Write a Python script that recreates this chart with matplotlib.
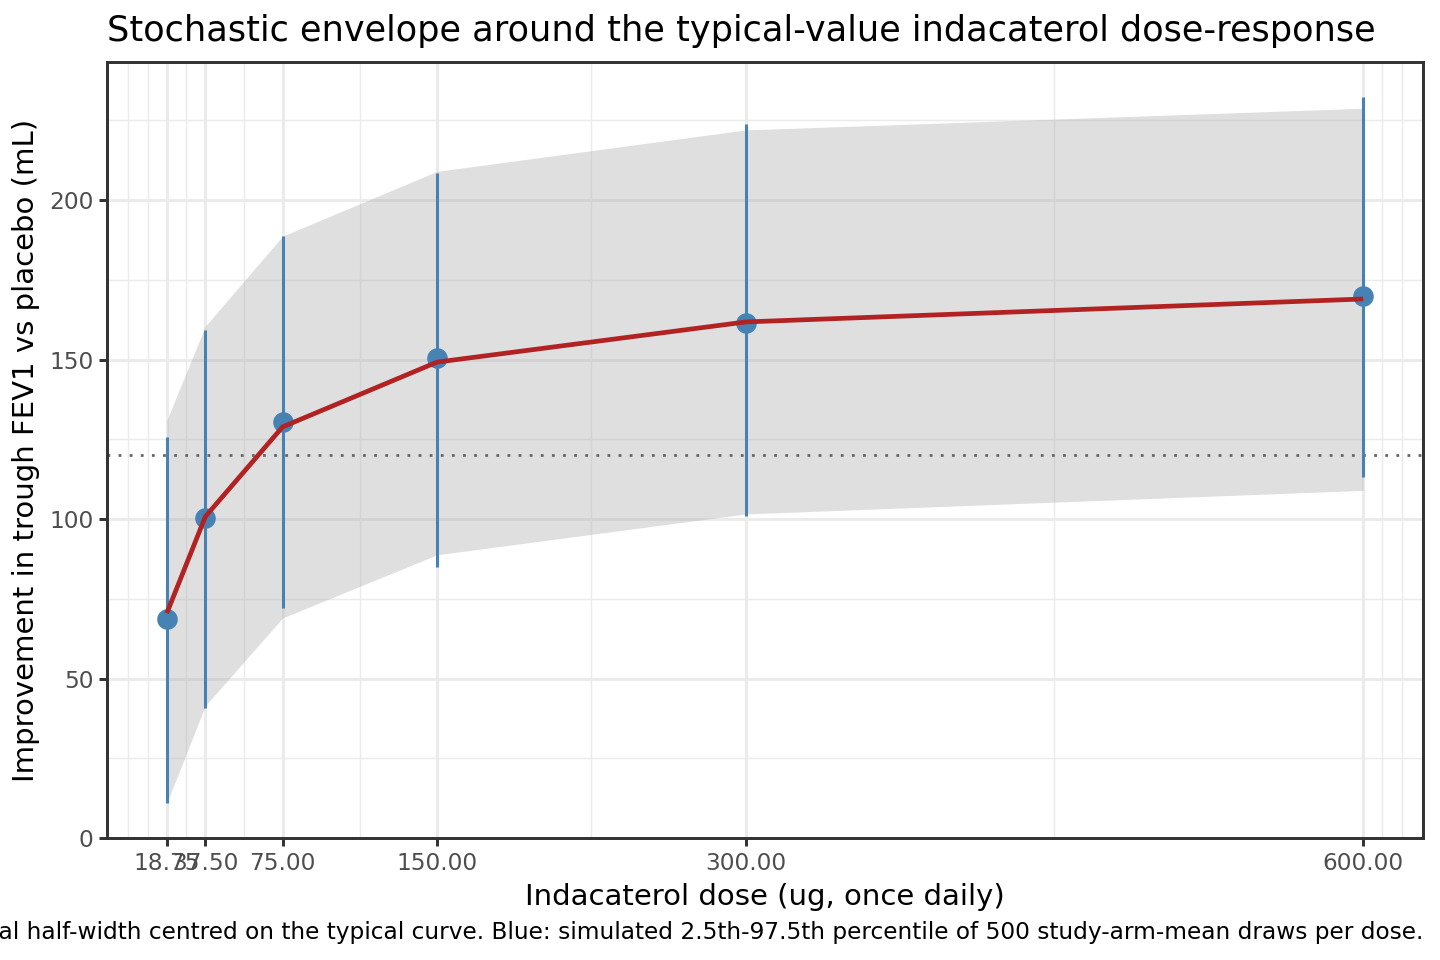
import matplotlib
matplotlib.use("Agg")
import matplotlib.pyplot as plt
import numpy as np

# ---- data ----
doses = [18.75, 37.5, 75, 150, 300, 600]
typical = [70.5, 100.8, 128.9, 149.2, 161.8, 169.0]
ribbon_lo = [11.0, 41.5, 69.0, 88.8, 101.6, 109.0]
ribbon_hi = [131.0, 160.5, 188.7, 209.0, 222.0, 228.8]
sim_median = [68.8, 100.2, 130.4, 150.5, 161.4, 170.0]
sim_lo = [11.0, 40.8, 72.1, 85.0, 101.0, 113.2]
sim_hi = [125.7, 159.2, 188.7, 208.5, 224.0, 232.3]
target = 120
x_ticks = [18.75, 37.5, 75, 150, 300, 600]
x_minor = [0, 9.375, 28.125, 56.25, 112.5, 225, 450, 609.375, 618.75]
y_ticks = [0, 50, 100, 150, 200]
y_minor = [25, 75, 125, 175, 225]

title = "Stochastic envelope around the typical-value indacaterol dose-response"
xlabel = "Indacaterol dose (ug, once daily)"
ylabel = "Improvement in trough FEV1 vs placebo (mL)"
caption = ("Grey band: typical-value curve with the 95% prediction interval half-width centred on the typical curve. "
           "Blue: simulated 2.5th-97.5th percentile of 500 study-arm-mean draws per dose.")

plt.rcParams['font.family'] = ['DejaVu Sans']

fig = plt.figure(figsize=(7.2, 4.8), dpi=200)
ax = fig.add_axes([107/1440, 1 - 838/960, (1423 - 107)/1440, (838 - 62)/960])

grid_col = '#EBEBEB'
for v in x_minor:
    ax.axvline(v, color=grid_col, lw=0.53, zorder=0.5)
for v in y_minor:
    ax.axhline(v, color=grid_col, lw=0.53, zorder=0.5)
for v in x_ticks:
    ax.axvline(v, color=grid_col, lw=1.07, zorder=0.6)
for v in y_ticks:
    ax.axhline(v, color=grid_col, lw=1.07, zorder=0.6)

ax.fill_between(doses, ribbon_lo, ribbon_hi, color='#B3B3B3', alpha=0.42, lw=0, zorder=1)
ax.axhline(target, color='#666666', lw=1.0, linestyle=(0, (1, 3)), zorder=2)
ax.vlines(doses, sim_lo, sim_hi, color='#4682B4', lw=1.1, zorder=3)
ax.plot(doses, sim_median, 'o', color='#4682B4', markersize=7.4, markeredgewidth=0, zorder=4)
ax.plot(doses, typical, color='#B22222', lw=1.7, zorder=5, solid_capstyle='butt')

ax.set_xlim(-10.3125, 629.0625)
ax.set_ylim(0, 243.3)
ax.set_xticks(x_ticks)
ax.set_xticklabels([f"{v:.2f}" for v in x_ticks])
ax.set_yticks(y_ticks)
ax.set_yticklabels([str(v) for v in y_ticks])
ax.tick_params(axis='both', which='major', length=2.75, width=1.07, color='#333333',
               labelcolor='#4D4D4D', labelsize=8.4, pad=2.2)
for s in ax.spines.values():
    s.set_color('#333333')
    s.set_linewidth(1.07)
    s.set_zorder(10)

ax.set_xlabel(xlabel, fontsize=10.5, color='black', labelpad=3)
ax.set_ylabel(ylabel, fontsize=10.5, color='black', labelpad=3.3)
fig.text(107/1440, 1 - 41/960, title, fontsize=12.65, ha='left', va='baseline', color='black')
fig.text(1423/1440, 1 - 939/960, caption, fontsize=8.4, ha='right', va='baseline', color='black')

fig.savefig('out.png', dpi=200)
